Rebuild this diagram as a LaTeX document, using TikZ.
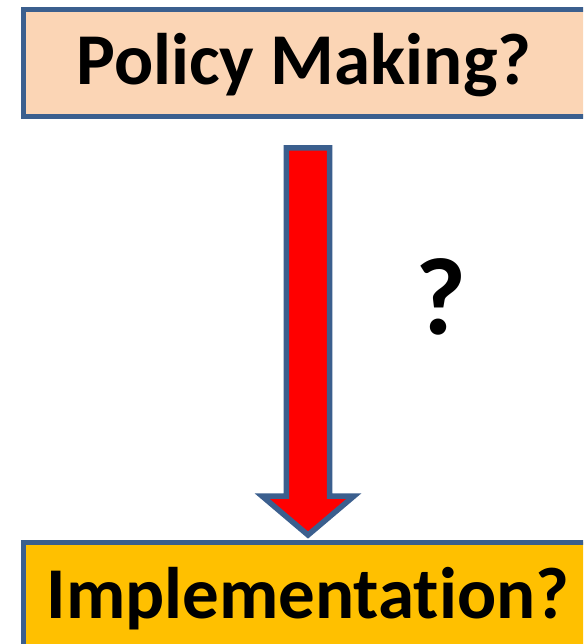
\documentclass[tikz,border=0pt]{standalone}
\usepackage{fontspec}
\setmainfont{Carlito}[Ligatures=NoCommon]
\definecolor{bordblue}{HTML}{3B5F8E}
\definecolor{peach}{HTML}{FBD5B5}
\definecolor{amber}{HTML}{FFC000}
\definecolor{arrowred}{HTML}{FF0000}
\tikzset{
  boxstyle/.style={draw=bordblue, line width=5pt, rectangle, inner sep=0pt, anchor=north west},
  labeltext/.style={font=\fontsize{73}{80}\selectfont\bfseries, inner sep=0pt, anchor=base},
  blockarrow/.style={draw=bordblue, line width=5.5pt, fill=arrowred, line join=miter}
}
\begin{document}
\begin{tikzpicture}[x=1pt,y=-1pt]
\clip (0,0) rectangle (583,644);
\fill[white] (0,0) rectangle (583,644);
\node[boxstyle, fill=peach, minimum width=600pt, minimum height=107pt] (topbox) at (20.5,7.5) {};
\node[boxstyle, fill=amber, minimum width=600pt, minimum height=120pt] (botbox) at (20.5,539.5) {};
\node[labeltext] (toptext) at (304,85) {Policy Making?};
\node[labeltext] (bottext) at (308,618) {Implementation?};
\coordinate (a1) at (286.3,148);
\coordinate (a2) at (329.7,148);
\coordinate (a3) at (329.7,496);
\coordinate (a4) at (354,496);
\coordinate (tip) at (308,535);
\coordinate (a6) at (262,496);
\coordinate (a7) at (286.3,496);
\draw[blockarrow] (a1) -- (a2) -- (a3) -- (a4) -- (tip) -- (a6) -- (a7) -- cycle;
\node[font=\fontsize{110}{116}\selectfont\bfseries, inner sep=0pt] (qmark) at (441,297) {?};
\end{tikzpicture}
\end{document}
